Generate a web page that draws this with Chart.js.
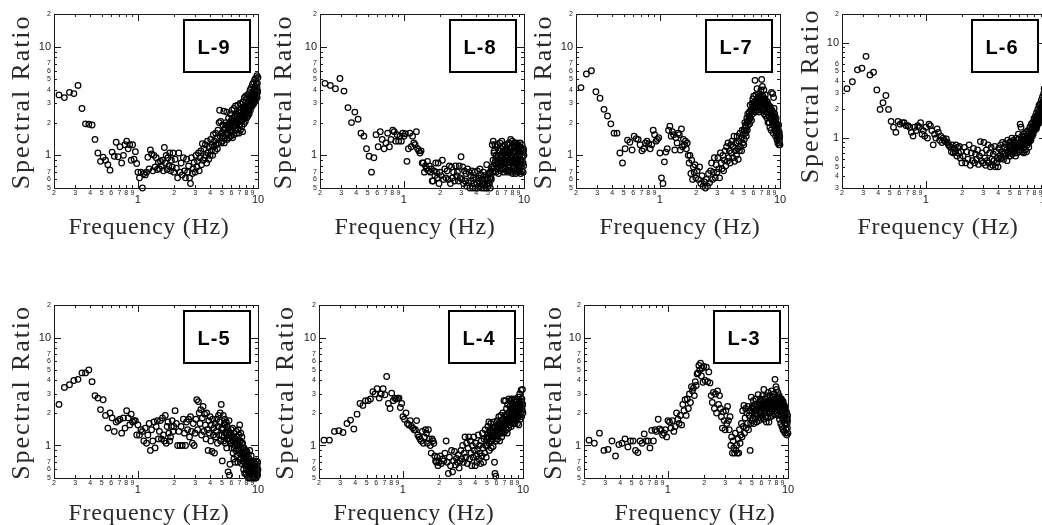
<!DOCTYPE html>
<html><head><meta charset="utf-8">
<script src="https://cdn.jsdelivr.net/npm/chart.js@4"></script>
<style>html,body{margin:0;padding:0;background:#fff;overflow:hidden;width:1042px;height:525px}canvas{position:absolute}</style>
</head><body>
<script>
const freq=[.22,.244,.269,.293,.317,.342,.366,.39,.415,.439,.464,.488,.513,.537,.562,.586,.61,.635,.659,.684,.708,.732,.757,.781,.806,.83,.854,.879,.903,.928,.952,.977,1.0,
1.03,1.06,1.09,1.12,1.15,1.18,1.21,1.24,1.27,1.3,1.33,1.36,1.39,1.42,1.45,1.48,1.51,1.54,1.57,1.6,1.63,1.66,1.69,1.72,1.75,1.78,1.81,1.84,1.87,1.9,1.93,1.96,1.99,
2.04,2.09,2.14,2.19,2.24,2.29,2.34,2.39,2.44,2.49,2.54,2.59,2.64,2.69,2.74,2.79,2.84,2.89,2.94,2.99,
3.04,3.09,3.14,3.19,3.24,3.29,3.34,3.39,3.44,3.49,3.54,3.59,3.64,3.69,3.74,3.79,3.84,3.89,3.94,3.99,
4.04,4.09,4.14,4.19,4.24,4.29,4.34,4.39,4.44,4.49,4.54,4.59,4.64,4.69,4.74,4.79,4.84,4.89,4.94,4.99,
5.04,5.09,5.14,5.19,5.24,5.29,5.34,5.39,5.44,5.49,5.54,5.59,5.64,5.69,5.74,5.79,5.84,5.89,5.94,5.99,
6.04,6.09,6.14,6.19,6.24,6.29,6.34,6.39,6.44,6.49,6.54,6.59,6.64,6.69,6.74,6.79,6.84,6.89,6.94,6.99,
7.04,7.09,7.14,7.19,7.24,7.29,7.34,7.39,7.44,7.49,7.54,7.59,7.64,7.69,7.74,7.79,7.84,7.89,7.94,7.99,
8.04,8.09,8.14,8.19,8.24,8.29,8.34,8.39,8.44,8.49,8.54,8.59,8.64,8.69,8.74,8.79,8.84,8.89,8.94,8.99,
9.04,9.09,9.14,9.19,9.24,9.29,9.34,9.39,9.44,9.49,9.54,9.59,9.64,9.69,9.74,9.79,9.84,9.89,9.94,9.99];

const ratioL9=[3.6,3.4,3.8,3.7,4.4,2.7,1.95,1.93,1.9,1.4,1.05,.88,.96,.9,.82,.73,1.07,.98,1.32,.97,1.2,.85,1.0,1.25,1.35,1.15,1.25,.9,1.25,.92,1.08,.84,.7,
.62,.7,.5,.68,.66,.7,.96,.75,1.12,1.03,.72,1.0,.78,.95,.74,.86,.75,.88,.8,.9,.72,1.18,.85,1.0,.74,.95,.8,1.05,.72,.9,.78,1.05,.7,
.92,.76,.62,1.05,.7,.85,.66,.95,.72,.62,.92,.7,.8,.62,.55,.95,.68,.75,.86,.7,
1.0,.78,.88,1.05,.72,.95,1.1,.82,1.28,.9,1.15,.95,1.25,1.0,.85,1.35,1.05,.92,1.2,1.0,
1.4,1.1,1.25,1.0,1.55,1.2,1.35,1.1,1.6,1.25,1.45,1.15,1.7,1.3,2.0,2.6,1.5,2.05,1.3,1.6,
1.35,1.9,1.5,2.55,1.3,1.75,1.45,2.0,1.55,2.5,1.4,1.85,1.6,2.2,1.45,1.95,1.7,2.4,1.5,2.1,
1.65,2.6,1.45,2.0,1.8,2.7,1.55,2.25,1.9,2.85,1.7,2.4,1.6,2.1,2.0,2.9,1.75,2.5,1.6,2.2,
1.9,3.0,1.7,2.6,2.1,2.95,1.85,2.4,1.65,3.1,2.2,2.7,1.95,3.4,2.35,2.8,2.05,3.5,2.5,2.9,
2.2,3.3,2.6,3.6,2.3,3.0,2.7,3.7,2.4,3.2,2.9,4.0,2.6,3.5,3.0,4.2,2.8,3.6,3.2,4.5,
2.9,3.9,3.4,4.7,3.0,4.1,3.5,5.0,3.2,4.3,3.6,5.1,3.3,4.5,3.8,5.4,3.4,4.6,3.9,5.2];

const ratioL8=[4.6,4.4,4.1,5.1,3.9,2.75,2.0,2.5,2.15,1.6,1.5,1.15,.98,.7,.95,1.55,1.2,1.65,1.4,1.15,1.3,1.6,1.2,1.4,1.7,1.65,1.35,1.55,1.35,1.5,1.35,1.6,1.5,
1.58,.88,1.15,1.6,1.2,1.5,1.3,1.25,1.65,1.15,1.1,1.05,1.1,.85,.85,.7,.8,.75,.88,.72,.8,.7,.75,.58,.58,.72,.65,.85,.7,.62,.85,.55,.7,
.65,.9,.6,.75,.62,.72,.6,.8,.55,.78,.62,.7,.58,.8,.65,.7,.58,.8,.62,.97,
.6,.78,.55,.72,.58,.68,.52,.75,.56,.7,.5,.65,.58,.72,.5,.62,.55,.7,.5,.6,
.56,.72,.5,.62,.58,.75,.52,.66,.5,.6,.56,.7,.5,.65,.53,.6,.5,.82,.55,.62,
.52,.68,.55,.62,.5,.72,.6,.78,1.25,.7,1.35,.8,1.1,.72,1.25,.9,.7,1.0,1.2,.75,
1.25,.85,.68,1.1,.8,1.3,.95,.72,1.15,.85,1.35,1.0,.75,1.2,.9,.7,1.05,.85,1.25,.75,
.95,1.15,.72,1.05,.85,1.25,.7,1.0,.82,1.3,.9,.72,1.1,.78,1.4,.95,.7,1.2,.85,1.35,
.68,1.05,.78,1.25,.9,1.3,.72,1.1,.85,1.2,.68,.95,1.3,.75,1.15,.9,.8,1.25,.7,1.05,
.85,1.2,.72,1.0,.8,1.3,.9,.68,1.15,.78,1.05,.72,1.25,.85,.95,1.1,.7,1.15,.8,1.0];

const ratioL7=[4.2,5.6,6.0,3.85,3.35,2.65,2.3,1.95,1.6,1.6,1.05,.85,1.15,1.38,1.32,1.12,1.5,1.42,1.4,1.25,1.1,1.15,1.3,1.35,1.28,1.15,1.25,1.7,1.55,1.35,1.4,1.45,1.05,
.62,.55,.87,1.07,1.15,1.7,1.85,1.5,1.65,1.55,1.12,1.45,1.3,1.6,1.55,1.12,1.75,1.2,1.4,1.25,1.35,1.15,1.3,1.0,.85,1.0,.68,.9,.6,.78,.7,.82,.62,
.72,.6,.78,.55,.65,.52,.57,.5,.6,.52,.68,.56,.72,.85,.6,.7,.95,.62,.82,.7,
.95,.75,.62,1.05,.85,.75,1.0,.72,.9,1.1,.8,1.2,.88,1.3,.95,1.1,.85,1.25,1.05,1.35,
.95,1.2,1.5,.88,1.1,1.3,1.0,1.5,1.15,.92,1.35,1.1,1.6,1.2,1.45,1.1,1.7,1.3,1.55,1.25,
1.4,2.0,1.6,1.9,1.5,2.2,1.7,2.4,1.9,2.1,2.5,1.95,2.9,2.2,2.6,2.1,3.0,2.4,3.3,2.7,
3.5,2.6,3.1,4.9,2.5,3.6,2.9,3.2,4.1,2.6,3.4,2.9,3.7,2.5,3.1,3.5,2.8,3.3,4.0,2.6,
5.0,3.0,4.3,2.6,3.4,2.9,4.0,2.4,3.2,2.7,3.6,2.3,3.0,2.5,2.8,2.2,3.1,2.6,2.0,2.9,
2.3,2.7,2.0,2.5,1.8,2.8,2.2,2.4,1.7,3.8,2.1,2.6,1.9,3.7,2.3,1.6,3.4,2.1,2.7,1.85,
2.4,1.7,2.1,1.5,1.95,2.2,1.6,1.8,1.4,1.9,1.55,1.3,1.7,1.45,1.9,1.25,1.6,1.35,1.5,1.25];

const ratioL6=[3.3,3.9,5.2,5.4,7.2,4.6,4.9,3.2,2.0,2.35,2.8,2.0,1.5,1.3,1.15,1.5,1.4,1.45,1.45,1.35,1.35,1.3,1.15,1.05,1.3,1.2,1.35,1.3,1.45,1.1,1.2,1.05,1.3,
1.0,1.4,1.35,1.2,.85,1.1,1.0,1.25,1.15,.95,1.05,.9,1.0,.95,.92,.98,.9,.85,.82,.8,.72,.85,.7,.78,.72,.85,.65,.8,.7,.82,.62,.72,.55,
.65,.8,.55,.72,.6,.85,.52,.7,.58,.78,.55,.68,.6,.75,.53,.65,.92,.58,.7,.55,
.9,.62,.52,.75,.58,.85,.55,.7,.5,.8,.6,.52,.68,.58,.82,.5,.72,.55,.62,.5,
.78,.6,.65,.85,.62,.72,.9,.68,.6,.8,.7,.88,.65,.75,.58,.95,.7,.82,.65,.9,
.65,.92,.75,1.0,.68,.85,.72,.95,.8,.7,.9,.65,1.0,.78,.7,.95,.82,1.1,.75,.88,
.72,1.4,.85,1.3,.8,1.05,.72,.95,.85,1.1,.7,.9,.8,1.05,.75,1.15,.9,.72,1.0,.85,
1.2,.9,1.05,.8,1.15,.95,1.3,1.0,1.2,.95,1.4,1.1,1.3,1.05,1.45,1.15,1.35,1.2,1.6,1.3,
1.5,1.25,1.7,1.4,1.6,1.3,1.85,1.5,1.7,1.45,2.0,1.6,1.8,1.5,2.2,1.7,1.95,1.6,2.3,1.85,
2.1,1.8,2.5,2.0,2.3,1.9,2.7,2.2,2.4,2.0,2.9,2.3,3.3,2.5,2.8,2.2,3.1,2.6,2.9,3.4];

const ratioL5=[2.4,3.45,3.65,4.0,4.1,4.7,4.7,5.0,3.9,2.9,2.75,2.15,2.65,1.9,1.45,2.0,1.8,1.35,1.65,1.7,1.75,1.3,1.8,1.45,2.1,1.8,1.55,1.95,1.65,1.7,1.7,1.25,1.55,
1.25,1.4,1.35,1.1,1.45,1.05,1.25,1.6,.9,1.4,1.1,1.65,.95,1.5,1.7,1.15,1.35,1.7,1.15,1.8,1.25,1.1,1.9,1.05,1.5,1.65,1.3,1.1,1.2,1.5,1.7,1.35,1.5,
2.1,1.6,1.0,1.35,1.0,1.5,1.0,1.75,1.3,1.0,1.65,1.4,1.75,1.2,1.85,1.35,1.05,1.6,1.0,1.3,
1.75,2.65,1.4,2.55,2.0,1.6,2.15,1.25,1.8,2.3,1.35,1.95,1.55,1.15,2.0,1.4,.9,1.7,1.3,1.85,
1.1,1.55,.88,1.75,1.25,1.45,.85,1.6,1.2,1.35,1.75,1.05,1.5,1.9,1.25,1.65,2.0,1.1,2.4,1.45,
.72,1.4,1.9,1.1,1.6,1.75,1.05,1.3,1.65,.95,1.5,1.15,.57,1.35,1.7,.53,.67,1.25,1.05,1.4,
.95,1.2,1.45,.85,1.1,.75,1.3,1.0,.7,1.15,.9,1.35,.8,1.2,1.05,.7,1.4,.95,1.25,.85,
1.55,1.1,.75,1.3,.95,.68,1.2,.85,1.05,.72,.8,.6,.95,.7,.55,.85,.65,.9,.55,.75,
.6,.88,.52,.7,.58,.82,.5,.65,.75,.55,.9,.6,.5,.7,.56,.8,.52,.62,.72,.5,
.66,.54,.6,.5,.7,.56,.52,.62,.5,.68,.55,.6,.5,.72,.58,.52,.65,.55,.7,.6];

const ratioL4=[1.12,1.12,1.35,1.37,1.32,1.6,1.72,1.42,1.95,2.45,2.35,2.6,2.6,2.7,3.15,3.0,3.35,2.75,3.0,3.35,2.95,4.35,2.45,2.2,3.05,2.6,2.75,2.7,2.75,2.75,2.25,2.45,1.85,
1.75,2.0,1.6,1.55,1.7,1.5,1.45,1.4,1.4,1.7,1.25,1.2,1.15,1.1,1.35,1.05,1.2,1.4,1.3,1.05,1.4,1.15,1.0,.85,1.15,1.1,1.05,.8,.72,.7,.78,.65,.7,
.8,.68,.75,.72,.85,1.1,.7,.55,.78,.65,.9,.57,.72,.88,.66,.76,.7,.82,.62,.72,
.9,.75,1.0,.7,.85,1.2,.78,1.05,.68,.95,1.2,.75,1.1,.85,.65,1.0,.78,1.2,.9,.65,
1.05,.8,.7,.92,1.25,.75,1.0,.85,.68,1.1,.8,1.3,.95,.7,1.15,.85,1.4,1.0,.78,1.2,
1.0,1.5,1.2,1.65,.9,1.35,1.1,1.6,.95,1.3,1.15,1.45,.98,1.65,1.25,.7,.55,1.5,.52,1.1,
1.35,1.7,1.15,1.5,1.25,1.85,1.4,1.1,1.6,1.3,1.9,1.45,1.2,1.7,1.35,2.0,1.5,1.3,2.6,1.6,
1.9,1.35,2.6,1.7,1.4,2.2,1.6,1.3,2.4,1.75,2.0,1.45,2.7,1.8,1.55,2.3,1.65,2.6,1.9,1.5,
2.2,2.7,1.7,2.4,1.95,1.6,2.6,2.0,1.75,2.3,1.6,2.7,1.85,2.1,2.55,1.7,2.25,1.9,2.6,1.6,
2.4,1.8,2.8,2.1,1.55,2.5,1.9,3.0,2.2,1.75,2.6,2.0,3.25,2.3,1.85,2.7,2.1,3.3,2.4,2.0];

const ratioL3=[1.12,1.05,1.3,.9,.92,1.1,.8,1.02,1.05,1.15,.97,1.1,1.1,.9,.86,1.1,1.05,1.28,1.1,1.1,.95,1.38,1.1,1.4,1.35,1.75,1.42,1.38,1.25,1.3,1.4,1.2,1.7,
1.65,1.45,1.7,1.35,1.5,2.0,1.75,1.6,1.9,1.55,2.4,2.1,2.65,1.9,2.7,2.2,3.0,2.5,3.5,3.2,3.4,2.9,3.9,3.6,4.6,4.7,5.5,5.0,5.8,4.4,5.2,3.85,5.4,
4.0,5.3,3.9,4.8,3.8,2.9,2.5,3.1,2.2,3.0,2.0,3.2,2.4,2.9,2.2,1.85,1.45,2.05,1.7,1.4,
2.1,1.6,2.3,1.7,1.4,1.85,1.0,1.2,.85,1.1,.95,.85,1.3,.9,1.0,.85,1.15,.85,1.4,1.05,
1.25,1.6,1.2,2.1,1.5,2.35,1.3,1.8,2.2,1.45,2.0,1.6,2.3,1.4,1.9,2.1,.9,1.6,2.8,1.7,
2.3,1.8,2.6,1.6,2.1,2.4,1.75,2.7,2.0,1.65,2.4,1.9,2.95,2.2,1.7,2.5,2.0,2.7,1.8,2.3,
2.6,1.9,2.9,2.2,1.75,3.3,2.4,2.0,2.7,1.85,2.3,1.65,2.9,2.1,2.5,1.8,3.1,2.3,1.65,2.6,
2.0,2.9,2.2,1.85,2.6,3.2,2.1,2.4,1.9,2.8,2.2,2.6,3.0,1.95,2.4,4.1,2.7,2.1,3.5,2.5,
3.3,2.0,2.8,2.4,3.1,1.9,2.6,2.2,2.9,1.75,2.5,2.1,2.7,1.6,2.3,1.9,2.5,1.5,2.1,1.8,
2.4,1.4,2.0,1.7,2.3,1.35,1.9,1.6,2.2,1.3,1.8,1.55,2.0,1.4,1.75,1.25,1.6,1.45,1.9,1.3];

const freqDense=[5.02,5.12,5.22,5.32,5.42,5.52,5.62,5.72,5.82,5.92,6.02,6.12,6.22,6.32,6.42,6.52,6.62,6.72,6.82,6.92,
7.02,7.12,7.22,7.32,7.42,7.52,7.62,7.72,7.82,7.92,8.02,8.12,8.22,8.32,8.42,8.52,8.62,8.72,8.82,8.92,
9.02,9.12,9.22,9.32,9.42,9.52,9.62,9.72,9.82,9.92];
const denseL9=[1.6,1.5,1.7,1.8,1.6,1.9,1.7,1.8,2.0,1.8,1.9,2.2,1.85,2.1,2.3,1.9,2.15,2.35,2.0,2.25,
2.3,2.1,2.5,2.25,2.1,2.6,2.4,2.2,2.7,2.45,2.75,2.4,2.9,2.6,3.1,2.7,3.2,2.85,3.3,3.0,
3.5,3.1,3.7,3.3,3.9,3.45,4.0,3.6,4.2,3.8];
const denseL8=[.6,.55,.7,.62,.75,.9,1.05,.85,1.0,.95,.85,1.0,.9,1.1,.8,1.0,.9,1.1,.85,1.05,
1.0,.85,1.1,.95,.8,1.05,.9,1.15,.85,1.0,.9,1.1,.8,1.2,.95,1.05,.85,1.15,1.0,.9,
1.1,.95,1.2,.85,1.05,.9,1.15,1.0,.85,1.1];
const denseL7=[1.7,1.8,1.7,2.0,2.1,2.3,2.2,2.6,2.5,2.8,2.9,2.75,3.1,3.0,3.2,3.3,3.0,3.4,3.2,3.1,
3.3,3.1,3.5,3.2,3.0,3.3,3.0,2.8,3.1,2.7,2.9,2.6,2.75,2.5,2.6,2.4,2.5,2.3,2.45,2.2,
2.25,2.0,2.1,1.9,1.95,1.75,1.8,1.6,1.65,1.45];
const denseL6=[.78,.82,.75,.85,.8,.78,.85,.82,.88,.8,.85,.9,.82,.95,.9,.85,.95,.88,1.0,.92,
.95,1.0,.9,1.05,1.0,1.1,1.05,1.15,1.1,1.2,1.2,1.25,1.3,1.25,1.35,1.4,1.45,1.5,1.45,1.55,
1.6,1.65,1.75,1.7,1.85,2.0,1.95,2.15,2.4,2.6];
const denseL5=[1.25,1.45,1.2,1.55,1.3,1.15,1.4,1.25,1.1,1.3,1.05,1.2,1.1,.95,1.15,1.05,1.2,1.0,1.1,.9,
1.0,1.1,.9,1.05,.85,.95,.8,.75,.85,.72,.8,.68,.72,.62,.7,.6,.66,.58,.62,.55,
.58,.62,.55,.6,.54,.58,.63,.56,.6,.53];
const denseL4=[1.15,1.3,1.05,1.4,1.2,1.1,1.35,1.2,1.45,1.3,1.4,1.55,1.35,1.6,1.45,1.55,1.7,1.5,1.75,1.6,
1.7,1.85,1.6,1.95,1.75,1.65,2.0,1.85,2.1,1.8,2.0,2.15,1.9,2.2,2.0,2.1,2.3,2.0,2.2,1.95,
2.2,2.05,2.3,2.15,2.4,2.0,2.25,2.5,2.2,2.4];
const denseL3=[2.0,2.2,2.3,1.95,2.1,2.35,2.2,2.05,2.4,2.25,2.4,2.2,2.5,2.1,2.35,2.45,2.2,2.3,2.55,2.2,
2.4,2.6,2.25,2.45,2.3,2.65,2.2,2.5,2.35,2.6,2.4,2.7,2.3,2.55,2.75,2.4,2.6,2.3,2.7,2.5,
2.3,2.55,2.2,2.35,2.1,2.25,1.95,2.05,1.8,1.7];

const xTickValues=[.2,.3,.4,.5,.6,.7,.8,.9,1,2,3,4,5,6,7,8,9,10];
const xTickLabels=['2','3','4','5','6','7','8','9','1','2','3','4','5','6','7','8','9','10'];
const yTickValues=[20,10,9,8,7,6,5,4,3,2,1,.9,.8,.7,.6,.5];
const yTickLabels=['2','10','','','7','6','5','4','3','2','1','','','7','6','5'];
const yTickValuesL6=[20,10,9,8,7,6,5,4,3,2,1,.9,.8,.7,.6,.5,.4,.3];
const yTickLabelsL6=['2','10','','','','6','5','4','3','2','1','','','','6','5','4','3'];
const majorValues=[1,10];
const xTitle='Frequency (Hz)';
const yTitle='Spectral Ratio';

const panels=[
 {name:'L-9',vals:ratioL9,dense:denseL9,left:54,top:14,bottom:188,yMin:.5,yT:yTickValues,yL:yTickLabels,tx:-7,ty:2,yx:7,yy:1},
 {name:'L-8',vals:ratioL8,dense:denseL8,left:320,top:14,bottom:188,yMin:.5,yT:yTickValues,yL:yTickLabels,tx:-7,ty:2,yx:3,yy:1},
 {name:'L-7',vals:ratioL7,dense:denseL7,left:576,top:14,bottom:188,yMin:.5,yT:yTickValues,yL:yTickLabels,tx:2,ty:2,yx:7,yy:1},
 {name:'L-6',vals:ratioL6,dense:denseL6,left:842,top:14,bottom:188,yMin:.3,yT:yTickValuesL6,yL:yTickLabelsL6,tx:-6,ty:2,yx:8,yy:-5},
 {name:'L-5',vals:ratioL5,dense:denseL5,left:54,top:305,bottom:478,yMin:.5,yT:yTickValues,yL:yTickLabels,tx:-7,ty:2,yx:7,yy:1},
 {name:'L-4',vals:ratioL4,dense:denseL4,left:319,top:305,bottom:478,yMin:.5,yT:yTickValues,yL:yTickLabels,tx:-7,ty:2,yx:6,yy:1},
 {name:'L-3',vals:ratioL3,dense:denseL3,left:584,top:305,bottom:478,yMin:.5,yT:yTickValues,yL:yTickLabels,tx:9,ty:2,yx:9,yy:1}
];

const INK='#1a1a1a';
const panelDecor={
 id:'panelDecor',
 beforeDraw(chart){
  const p=chart.options.plugins.panelDecor;
  for(const id of ['x','y']){
   const s=chart.scales[id];
   if(s._patched) continue;
   s._patched=true;
   const orig=s.drawTitle.bind(s);
   s.drawTitle=function(){
    const c=chart.ctx;c.save();
    const horiz=s.isHorizontal();
    c.letterSpacing=horiz?'0.7px':'1.9px';
    c.translate(horiz?p.tx:p.yx,horiz?p.ty:p.yy);
    orig();c.restore();
   };
  }
 },
 afterDraw(chart){
  const p=chart.options.plugins.panelDecor,c=chart.ctx,a=chart.chartArea,xs=chart.scales.x,ys=chart.scales.y;
  c.save();
  c.strokeStyle=INK;c.lineWidth=1;
  c.beginPath();
  for(const v of xTickValues){
   const px=Math.round(xs.getPixelForValue(v))+.5,len=majorValues.includes(v)?7:3;
   c.moveTo(px,a.bottom);c.lineTo(px,a.bottom-len);
   c.moveTo(px,a.top);c.lineTo(px,a.top+len);
  }
  for(const v of p.yT){
   const py=Math.round(ys.getPixelForValue(v))+.5,len=majorValues.includes(v)?7:3;
   c.moveTo(a.left,py);c.lineTo(a.left+len,py);
   c.moveTo(a.right,py);c.lineTo(a.right-len,py);
  }
  c.stroke();
  c.strokeRect(a.left+.5,a.top+.5,a.right-a.left,a.bottom-a.top);
  const bx=a.left+130,by=a.top+6,bw=66,bh=52;
  c.fillStyle='#fff';c.fillRect(bx,by,bw,bh);
  c.lineWidth=2;c.strokeStyle='#000';c.strokeRect(bx,by,bw,bh);
  c.fillStyle='#000';c.font='bold 20px "Liberation Sans"';c.textAlign='center';c.textBaseline='middle';
  c.letterSpacing='1px';
  c.fillText(p.name,bx+bw/2-3,by+bh/2+2);
  c.restore();
 }
};

panels.forEach(p=>{
 const cv=document.createElement('canvas');
 const W=54+204+12,T=p.top-14,H=(p.top<100?240:235);
 cv.width=W;cv.height=H;
 cv.style.left=(p.left-54)+'px';cv.style.top=T+'px';
 cv.style.width=W+'px';cv.style.height=H+'px';
 document.body.appendChild(cv);
 const axisBottomInCanvas=p.bottom-T;
 const pts=freq.map((x,i)=>({x,y:p.vals[i]})).concat(freqDense.map((x,i)=>({x,y:p.dense[i]})));
 new Chart(cv,{
  type:'scatter',
  data:{datasets:[{label:p.name,data:pts,
    showLine:false,pointRadius:2.8,pointBorderWidth:1.25,pointBorderColor:'#000',pointBackgroundColor:'rgba(0,0,0,0)',pointStyle:'circle',clip:false}]},
  options:{
   responsive:false,animation:false,
   layout:{padding:{top:14,right:12,left:0,bottom:0}},
   plugins:{legend:{display:false},tooltip:{enabled:false},title:{display:false},panelDecor:p},
   scales:{
    x:{type:'logarithmic',min:.2,max:10,
     afterBuildTicks(s){s.ticks=xTickValues.map(v=>({value:v}));},
     afterFit(s){s.height=H-axisBottomInCanvas;},
     grid:{display:false,drawTicks:false},border:{display:false},
     ticks:{autoSkip:false,maxRotation:0,minRotation:0,padding:2,color:INK,
      font:c=>majorValues.includes(c.tick&&c.tick.value)?{family:'"Liberation Sans"',size:11,lineHeight:.62}:{family:'"Liberation Sans"',size:7,lineHeight:1},
      callback(v,i){const l=xTickLabels[i];return majorValues.includes(v)?['',l]:l;}},
     title:{display:true,text:xTitle,color:'#2a2a2a',font:{family:'"Liberation Serif"',size:24},padding:{top:0,bottom:0}}},
    y:{type:'logarithmic',min:p.yMin,max:20,
     afterBuildTicks(s){s.ticks=p.yT.map(v=>({value:v}));},
     afterFit(s){s.width=54;},
     grid:{display:false,drawTicks:false},border:{display:false},
     ticks:{autoSkip:false,padding:3,color:INK,
      font:c=>majorValues.includes(c.tick&&c.tick.value)?{family:'"Liberation Sans"',size:11}:{family:'"Liberation Sans"',size:7},
      callback(v,i){return p.yL[i];}},
     title:{display:true,text:yTitle,color:'#2a2a2a',font:{family:'"Liberation Serif"',size:26},padding:{top:0,bottom:0}}}
   }
  },
  plugins:[panelDecor]
 });
});
</script>
</body></html>
